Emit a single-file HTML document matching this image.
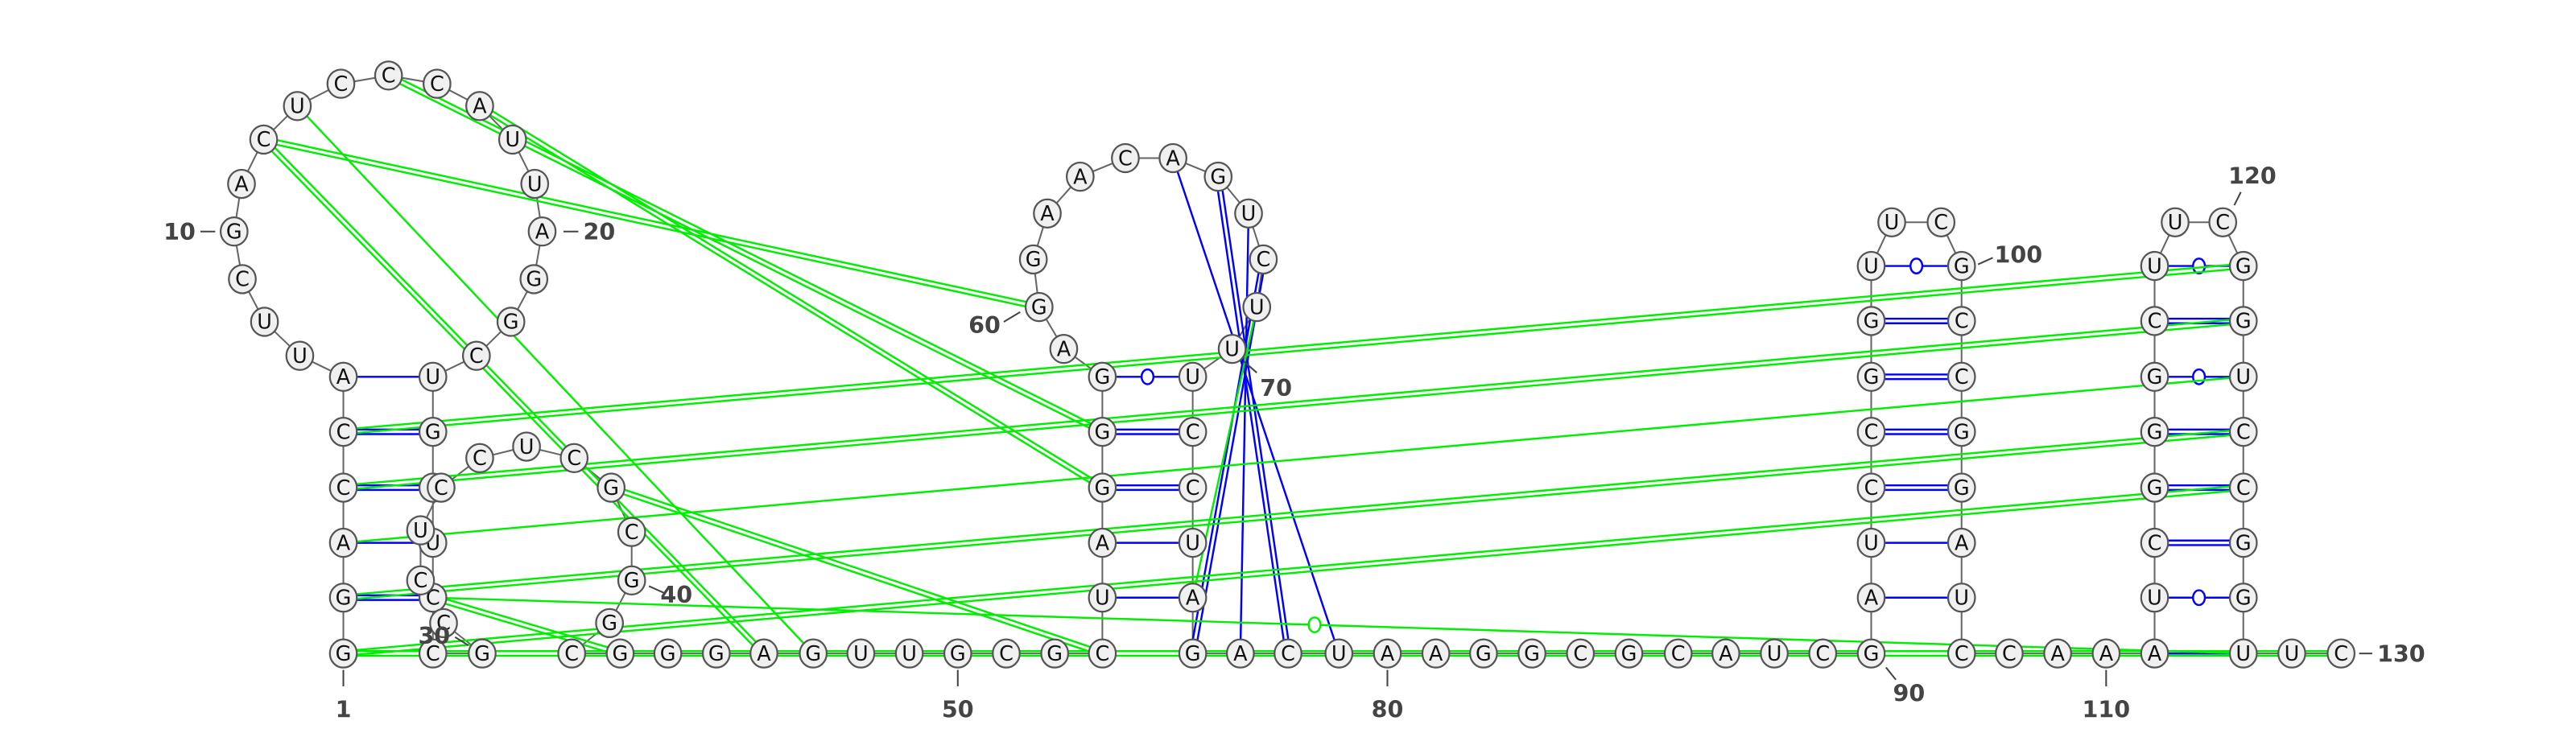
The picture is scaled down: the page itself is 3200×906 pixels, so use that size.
<!DOCTYPE html>
<html><head><meta charset="utf-8"><style>
html,body{margin:0;padding:0;background:#fff;}
svg{display:block;}
</style></head><body>
<svg id="chart" width="3200" height="906" viewBox="0 0 1568 444" preserveAspectRatio="none" xmlns="http://www.w3.org/2000/svg">
<g id="backbone"></g>
<g id="pairs"></g>
<g id="tert"></g>
<g id="nodes"></g>
<g id="labels" font-family="'DejaVu Sans','Liberation Sans',sans-serif" font-size="14" font-weight="bold" fill="#444" stroke="#444"></g>
</svg>
<script>
const sequence = "GGACCAUUCG"+"ACUCCCAUUA"+"GGCUGCUCCG"+"CCUCCUCGCG"+"GCGGGAGUUG"+"CGCUAGGGAG"+"GAACAGUCUU"+"UCCUAGACUA"+"AGGCGCAUCG"+"AUCCGGUUCG"+"CCGGAUCCAA"+"AUCGGGCUUC"+"GGUCCGGUUC";
const canonicalPairs = [[6,24,1],[5,25,2],[4,26,2],[3,27,1],[2,28,2],
  [58,71,0],[57,72,2],[56,73,2],[55,74,1],[54,75,1],
  [91,106,1],[92,105,1],[93,104,2],[94,103,2],[95,102,2],[96,101,2],[97,100,0],
  [111,128,1],[112,127,0],[113,126,2],[114,125,2],[115,124,2],[116,123,0],[117,122,2],[118,121,0],
  [65,79,1],[66,78,2],[67,77,1],[68,76,2]];
const comparePairs = [[12,60,2],[12,46,2],[13,47,1],[15,57,2],[17,56,2],[38,53,2],
  [5,121,2],[4,122,2],[3,123,1],[2,124,2],[1,125,2],[28,43,2],[69,75,1],[28,128,3]];
const positionLabels = ["1","10","20","30","40","50","60","70","80","90","100","110","120","130"];

const P = {};
const R=[398,364,330.6,297,263,229.5,195.5,162,135.4];
function put(i,x,y){P[i]=[x,y];}
for(let k=0;k<6;k++){put(1+k,209,R[k]);put(29-k,263.5,R[k]);}
[[182.5,216.7],[161,196],[147.5,170],[142.5,141],[147,112],[160.5,85],[181,64.6],[207.5,51],[236.5,46],[266,51],[292,64.6],[312,85],[325.5,112],[330,141],[325,170],[311,196],[290,216.7]].forEach((p,k)=>put(7+k,p[0],p[1]));
put(30,293.5,398);
[[270,379.5],[256,353.5],[256,323],[268.5,297],[292,279],[320.5,272],[349.5,279],[372,297],[384.5,324],[384.5,353.5],[371,379.5]].forEach((p,k)=>put(31+k,p[0],p[1]));
[348,377.5,406.5,436,465,495,524,553.5,583,612.5,642].forEach((x,k)=>put(42+k,x,398));
for(let k=0;k<6;k++){put(53+k,671,R[k]);put(76-k,726,R[k]);}
[[647.5,212.5],[632.5,187],[629,158],[637.5,130],[657.5,107.6],[685,96.3],[714,96.3],[741.5,107.6],[760,130],[769,158],[765,187],[750,212.5]].forEach((p,k)=>put(59+k,p[0],p[1]));
[755,784,815,844.5,874,903,932.5,962,991.5,1021.5,1050.5,1080,1109.5].forEach((x,k)=>put(77+k,x,398));
for(let k=0;k<8;k++){put(90+k,1139,R[k]);put(107-k,1194,R[k]);}
put(98,1151.5,135.4);put(99,1181.5,135.4);
put(108,1223,398);put(109,1252.5,398);put(110,1282,398);
for(let k=0;k<8;k++){put(111+k,1311.5,R[k]);put(128-k,1365.5,R[k]);}
put(119,1324,135.4);put(120,1353,135.4);
put(129,1395,398);put(130,1425,398);

const NS="http://www.w3.org/2000/svg";
function mk(tag,attrs,parent){const e=document.createElementNS(NS,tag);for(const k in attrs)e.setAttribute(k,attrs[k]);parent.appendChild(e);return e;}
const gB=document.getElementById('backbone'),gP=document.getElementById('pairs'),gT=document.getElementById('tert'),gN=document.getElementById('nodes'),gL=document.getElementById('labels');

for(let i=1;i<130;i++){const a=P[i],b=P[i+1];
  const l=mk('line',{x1:a[0],y1:a[1],x2:b[0],y2:b[1],stroke:'#666','stroke-width':1},gB);
  
  }

function pairLine(i,j,type,color,parent,name){
  const a=P[i],b=P[j];const dx=b[0]-a[0],dy=b[1]-a[1],L=Math.hypot(dx,dy);const nx=-dy/L,ny=dx/L;
  const g=mk('g',{},parent);
  
  
  if(type===2){[-1.4,1.4].forEach(o=>mk('line',{x1:a[0]+nx*o,y1:a[1]+ny*o,x2:b[0]+nx*o,y2:b[1]+ny*o,stroke:color,'stroke-width':1.2},g));}
  else{mk('line',{x1:a[0],y1:a[1],x2:b[0],y2:b[1],stroke:color,'stroke-width':1.2},g);}
  if(type===0||type===3){let t=type===0?0.5:0.487;mk('ellipse',{cx:a[0]+dx*t,cy:a[1]+dy*t,rx:3.6,ry:4.5,fill:'#fff',stroke:color,'stroke-width':1.2},g);}
}
const bt=mk('g',{},gT);


[396.6,399.4].forEach(y=>mk('line',{x1:209,y1:y,x2:1425,y2:y,stroke:'#00ee00','stroke-width':1.2},bt));
canonicalPairs.forEach(p=>pairLine(p[0],p[1],p[2],'#0000ff',gP,'base-pair-'+p[0]+'-'+p[1]));
comparePairs.forEach(p=>pairLine(p[0],p[1],p[2],'#00ee00',gT,'compare-pair-'+p[0]+'-'+p[1]));

for(let i=1;i<=130;i++){const [x,y]=P[i];
  const g=mk('g',{},gN);
  
  
  mk('ellipse',{cx:x,cy:y,rx:8.2,ry:8.6,fill:'#f0f0f0',stroke:'#555','stroke-width':1.1},g);
  const t=mk('text',{x:x,y:y+4.3,'text-anchor':'middle','font-family':"'DejaVu Sans','Liberation Sans',sans-serif",'font-size':12.5,fill:'#111'},g);
  t.textContent=sequence[i-1];}

const labelLayout=[[209,437,'middle',209,408,209,418],[119,146,'end',122,141,131,141],[355,146,'start',343,141,352,141],[274,392,'end',277,388,285,393],
 [402,367,'start',395,357,404,361],[583,437,'middle',583,408,583,418],[609,203,'end',611,196,621,190],[767,241,'start',757,220,765,227],
 [844.5,437,'middle',844.5,408,844.5,418],[1162,427,'middle',1148,406.5,1154,414],[1214,160,'start',1204,161,1213,157],[1282,437,'middle',1282,408,1282,418],
 [1371,112,'middle',1360,125,1364,117],[1447,403,'start',1436,398,1444,398]];
positionLabels.forEach((s,k)=>{const L=labelLayout[k];
  const g=mk('g',{},gL);
  
  
  mk('line',{x1:L[3],y1:L[4],x2:L[5],y2:L[6],'stroke-width':1},g);
  const t=mk('text',{x:L[0],y:L[1],'text-anchor':L[2],stroke:'none'},g);t.textContent=s;});
</script>
</body></html>
